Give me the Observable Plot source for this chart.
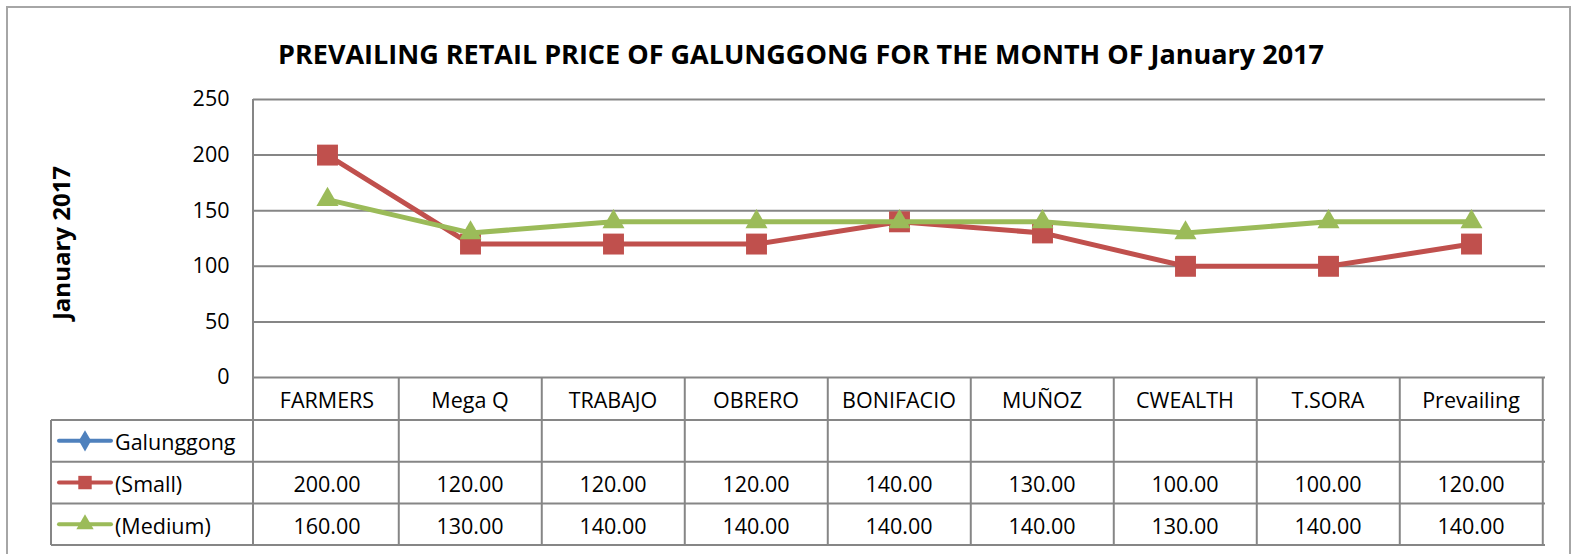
<!DOCTYPE html>
<html>
<head>
<meta charset="utf-8">
<script src="https://cdn.jsdelivr.net/npm/d3@7"></script>
<script src="https://cdn.jsdelivr.net/npm/@observablehq/plot@0.6"></script>
<style>
  html, body { margin: 0; padding: 0; background: #fff; }
  #chart { position: relative; width: 1574px; height: 554px; overflow: hidden; }
  #frame { position: absolute; left: 6px; top: 6px; width: 1565px; height: 560px; border: 2px solid #a6a6a6; box-sizing: border-box; pointer-events: none; }
</style>
</head>
<body>
<div id="chart"><div id="frame"></div></div>
<script>
const title = "PREVAILING RETAIL PRICE OF GALUNGGONG FOR THE MONTH OF January 2017";
const yLabel = "January 2017";
const categories = ["FARMERS", "Mega Q", "TRABAJO", "OBRERO", "BONIFACIO", "MUÑOZ", "CWEALTH", "T.SORA", "Prevailing"];
const seriesNames = ["Galunggong", "(Small)", "(Medium)"];
const galunggong = [null, null, null, null, null, null, null, null, null];
const small = [200, 120, 120, 120, 140, 130, 100, 100, 120];
const medium = [160, 130, 140, 140, 140, 140, 130, 140, 140];
const yTicks = [0, 50, 100, 150, 200, 250];
const colors = ["#4F81BD", "#C0504D", "#9BBB59"];
const symbols = ["diamond", "square", "triangle"];

const FONT = "'Open Sans', sans-serif";
const FS = 21.5;
const W = 1574, H = 554;
const mL = 253, mR = 29, mT = 99, mB = 177;

const allSeries = [galunggong, small, medium];
const rows = [];
allSeries.forEach((vals, s) => vals.forEach((v, i) => {
  if (v != null) rows.push({series: seriesNames[s], cat: categories[i], value: v});
}));
const smallRows = rows.filter(d => d.series === "(Small)");
const mediumRows = rows.filter(d => d.series === "(Medium)");

const chart = Plot.plot({
  width: W, height: H,
  marginLeft: mL, marginRight: mR, marginTop: mT, marginBottom: mB,
  style: {fontFamily: FONT, fontSize: FS + "px", color: "#000", background: "transparent", overflow: "visible"},
  x: {type: "point", domain: categories, padding: 0.5, axis: null},
  y: {domain: [0, 250], ticks: yTicks, tickSize: 0, tickPadding: 24, label: null, tickFormat: d => String(d)},
  marks: [
    Plot.ruleY(yTicks, {stroke: "#868686", strokeWidth: 2}),
    Plot.line(smallRows, {x: "cat", y: "value", stroke: colors[1], strokeWidth: 5}),
    Plot.dot(smallRows, {x: "cat", y: "value", symbol: "square", r: 11.8, fill: colors[1], stroke: "none"}),
    Plot.line(mediumRows, {x: "cat", y: "value", stroke: colors[2], strokeWidth: 5}),
    Plot.dot(mediumRows, {x: "cat", y: "value", symbol: "triangle", r: 8.2, fill: colors[2], stroke: "none"})
  ]
});
chart.style.position = "absolute";
chart.style.left = "0px";
chart.style.top = "0px";
document.getElementById("chart").appendChild(chart);

// Data table and titles drawn with the plot's own scales
const sx = chart.scale("x");
const step = (sx.range[1] - sx.range[0]) / categories.length;
const x0 = sx.range[0], x1 = sx.range[1];
const yZero = chart.scale("y").apply(0);
const rowH = 41.7;
const headerTop = yZero, headerBottom = yZero + 43;
const tableBottom = headerBottom + rowH * 3;
const legendLeft = 51;

const svg = d3.select(chart);
const g = svg.append("g").attr("font-family", FONT).attr("font-size", FS).attr("text-anchor", "start");
const gridStroke = "#868686";

g.append("line").attr("x1", x0).attr("x2", x0).attr("y1", mT).attr("y2", tableBottom)
  .attr("stroke", gridStroke).attr("stroke-width", 2);
categories.forEach((c, i) => {
  const xr = sx.apply(c) + step / 2;
  g.append("line").attr("x1", xr).attr("x2", xr).attr("y1", headerTop).attr("y2", tableBottom)
    .attr("stroke", gridStroke).attr("stroke-width", 2);
});
g.append("line").attr("x1", legendLeft).attr("x2", legendLeft).attr("y1", headerBottom).attr("y2", tableBottom)
  .attr("stroke", gridStroke).attr("stroke-width", 2);
g.append("line").attr("x1", x0).attr("x2", x1).attr("y1", headerBottom).attr("y2", headerBottom)
  .attr("stroke", gridStroke).attr("stroke-width", 2);
for (let r = 0; r <= 3; r++) {
  const yy = headerBottom + rowH * r;
  g.append("line").attr("x1", legendLeft).attr("x2", x1).attr("y1", yy).attr("y2", yy)
    .attr("stroke", gridStroke).attr("stroke-width", 2);
}
categories.forEach(c => {
  g.append("text").attr("x", sx.apply(c)).attr("y", (headerTop + headerBottom) / 2 + 1)
    .attr("text-anchor", "middle").attr("dominant-baseline", "central").attr("fill", "#000").text(c);
});
allSeries.forEach((vals, s) => {
  const cy = headerBottom + rowH * s + rowH / 2;
  vals.forEach((v, i) => {
    if (v == null) return;
    g.append("text").attr("x", sx.apply(categories[i])).attr("y", cy + 1)
      .attr("text-anchor", "middle").attr("dominant-baseline", "central").attr("fill", "#000")
      .text(v.toFixed(2));
  });
  g.append("line").attr("x1", 59).attr("x2", 111).attr("y1", cy).attr("y2", cy)
    .attr("stroke", colors[s]).attr("stroke-width", 4).attr("stroke-linecap", "round");
  const sym = {diamond: d3.symbolDiamond, square: d3.symbolSquare, triangle: d3.symbolTriangle}[symbols[s]];
  const size = {diamond: 130, square: 180, triangle: 130}[symbols[s]];
  g.append("path").attr("d", d3.symbol(sym, size)()).attr("transform", `translate(85,${cy})`)
    .attr("fill", colors[s]);
  g.append("text").attr("x", 115).attr("y", cy + 1).attr("text-anchor", "start").attr("dominant-baseline", "central")
    .attr("fill", "#000").text(seriesNames[s]);
});

svg.append("text").attr("x", 801).attr("y", 53).attr("text-anchor", "middle").attr("dominant-baseline", "central")
  .attr("font-family", FONT).attr("font-weight", "bold").attr("font-size", 27).attr("fill", "#000").text(title);
svg.append("text").attr("transform", "translate(60,243) rotate(-90)").attr("text-anchor", "middle")
  .attr("dominant-baseline", "central").attr("font-family", FONT).attr("font-weight", "bold")
  .attr("font-size", 24).attr("fill", "#000").text(yLabel);
</script>
</body>
</html>
